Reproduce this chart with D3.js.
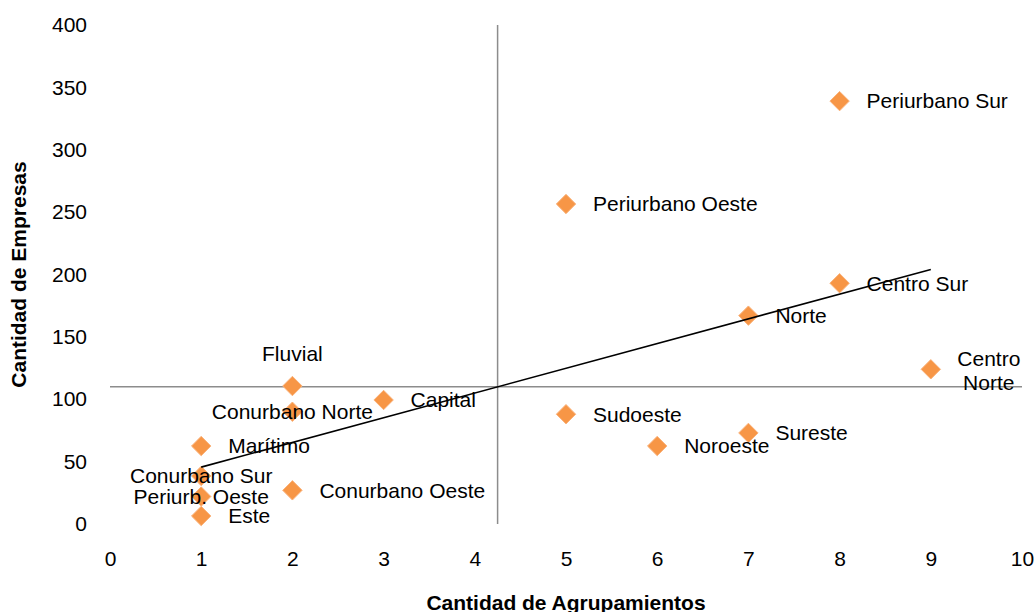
<!DOCTYPE html>
<html>
<head>
<meta charset="utf-8">
<script src="https://cdn.jsdelivr.net/npm/d3@7"></script>
<style>
  html, body { margin: 0; padding: 0; background: #fff; }
  svg text { font-family: "Liberation Sans", Arial, sans-serif; fill: #000; }
</style>
</head>
<body>
<svg id="chart" width="1036" height="612"></svg>
<script>
// Data
const names = ["Periurbano Sur", "Periurbano Oeste", "Centro Sur", "Norte", "Centro Norte",
  "Sudoeste", "Noroeste", "Sureste", "Fluvial", "Conurbano Norte", "Capital", "Marítimo",
  "Conurbano Sur", "Periurb. Oeste", "Conurbano Oeste", "Este"];
const agrupamientos = [8, 5, 8, 7, 9, 5, 6, 7, 2, 2, 3, 1, 1, 1, 2, 1];
const empresas = [339, 256.5, 193, 167, 124, 88, 62.5, 73, 110.6, 90, 99.4, 62.5, 38.5, 22, 27, 6.4];
const labelPos = ["r", "r", "r", "r", "rw", "r", "r", "r", "t", "c", "r", "r", "c", "c", "r", "r"];
const xTicks = [0, 1, 2, 3, 4, 5, 6, 7, 8, 9, 10];
const yTicks = [0, 50, 100, 150, 200, 250, 300, 350, 400];
const xTitle = "Cantidad de Agrupamientos";
const yTitle = "Cantidad de Empresas";

const svg = d3.select("#chart");
const x = d3.scaleLinear().domain([0, 10]).range([110, 1022]);
const y = d3.scaleLinear().domain([0, 400]).range([524, 25]);

const fs = 21;
const ff = "Liberation Sans, Arial, sans-serif";

// Axes (labels only, no lines)
const xAxis = svg.append("g").attr("transform", `translate(0,${y(0)})`)
  .call(d3.axisBottom(x).tickValues(xTicks).tickSize(0).tickPadding(27).tickFormat(d3.format("d")));
xAxis.select(".domain").remove();
xAxis.selectAll("text").attr("font-size", fs).attr("font-family", ff);

const yAxis = svg.append("g").attr("transform", `translate(${x(0)},0)`)
  .call(d3.axisLeft(y).tickValues(yTicks).tickSize(0).tickPadding(23).tickFormat(d3.format("d")));
yAxis.select(".domain").remove();
yAxis.selectAll("text").attr("font-size", fs).attr("font-family", ff);

// Mean lines
const mx = d3.mean(agrupamientos), my = d3.mean(empresas);
svg.append("line").attr("x1", x(mx)).attr("x2", x(mx)).attr("y1", y(400)).attr("y2", y(0))
  .attr("stroke", "#8c8c8c").attr("stroke-width", 1.5);
svg.append("line").attr("x1", x(0)).attr("x2", x(10)).attr("y1", y(my)).attr("y2", y(my))
  .attr("stroke", "#8c8c8c").attr("stroke-width", 1.5);

// Markers
const pts = names.map((n, i) => ({ n, x: agrupamientos[i], y: empresas[i], p: labelPos[i] }));
svg.append("g").selectAll("path").data(pts).join("path")
  .attr("transform", d => `translate(${x(d.x)},${y(d.y)})`)
  .attr("d", d3.symbol().type(d3.symbolDiamond2).size(240))
  .attr("fill", "#f79646").attr("stroke", "#fab27a").attr("stroke-width", 1);

// Trend line (least squares)
let sxy = 0, sxx = 0;
pts.forEach(d => { sxy += (d.x - mx) * (d.y - my); sxx += (d.x - mx) * (d.x - mx); });
const slope = sxy / sxx, icpt = my - slope * mx;
const x0 = d3.min(agrupamientos), x1 = d3.max(agrupamientos);
svg.append("line").attr("x1", x(x0)).attr("y1", y(icpt + slope * x0))
  .attr("x2", x(x1)).attr("y2", y(icpt + slope * x1))
  .attr("stroke", "#000").attr("stroke-width", 1.6);

// Labels
const lg = svg.append("g").attr("font-size", fs);
pts.forEach(d => {
  const px = x(d.x), py = y(d.y);
  if (d.p === "r") {
    lg.append("text").attr("x", px + 27).attr("y", py).attr("dy", "0.35em").text(d.n);
  } else if (d.p === "c") {
    lg.append("text").attr("x", px).attr("y", py).attr("dy", "0.35em").attr("text-anchor", "middle").text(d.n);
  } else if (d.p === "t") {
    lg.append("text").attr("x", px).attr("y", py - 32).attr("dy", "0.35em").attr("text-anchor", "middle").text(d.n);
  } else if (d.p === "rw") {
    const parts = d.n.split(" ");
    const t = lg.append("text").attr("text-anchor", "middle");
    parts.forEach((w, k) => {
      t.append("tspan").attr("x", px + 58).attr("y", py - 11 + k * 24).attr("dy", "0.35em").text(w);
    });
  }
});

// Axis titles
svg.append("text").attr("x", x(5)).attr("y", 603).attr("dy", "0.35em")
  .attr("text-anchor", "middle").attr("font-weight", "bold").attr("font-size", 21).text(xTitle);
svg.append("text").attr("transform", `translate(19,${(y(0) + y(400)) / 2}) rotate(-90)`)
  .attr("dy", "0.35em").attr("text-anchor", "middle").attr("font-weight", "bold").attr("font-size", 21).text(yTitle);
</script>
</body>
</html>
